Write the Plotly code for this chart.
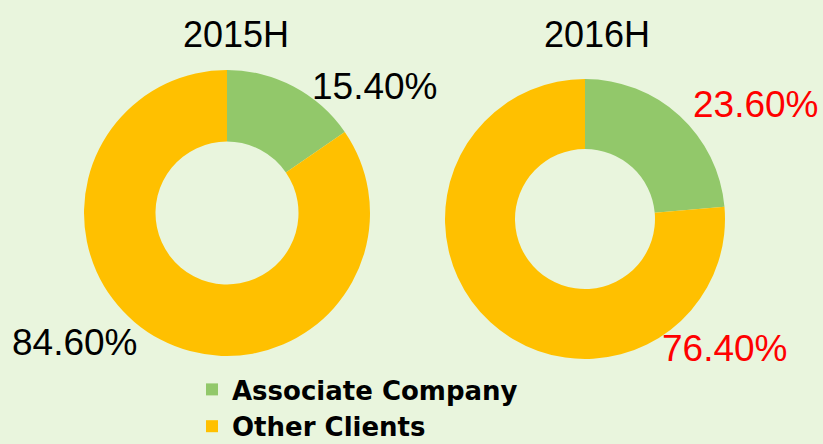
import plotly.graph_objects as go

labels = ["Associate Company", "Other Clients"]
titles = ["2015H", "2016H"]
values_2015 = [15.40, 84.60]
values_2016 = [23.60, 76.40]
colors = ["#92C86A", "#FFC000"]

W, H = 823, 444
BG = "#E9F5DD"

def px_x(x):
    return x / W

def px_y(y):
    return 1 - y / H

fig = go.Figure()
# left donut: center (227,213) r 143; right: center (585,219) r 140
fig.add_trace(go.Pie(labels=labels, values=values_2015, hole=0.5, sort=False,
                     direction="clockwise", rotation=0, textinfo="none",
                     marker=dict(colors=colors, line=dict(width=0)),
                     domain=dict(x=[px_x(84), px_x(370)], y=[px_y(356), px_y(70)]),
                     hoverinfo="label+percent"))
fig.add_trace(go.Pie(labels=labels, values=values_2016, hole=0.5, sort=False,
                     direction="clockwise", rotation=0, textinfo="none",
                     marker=dict(colors=colors, line=dict(width=0)),
                     domain=dict(x=[px_x(445), px_x(725)], y=[px_y(359), px_y(79)]),
                     hoverinfo="label+percent"))

ann = []
ann.append(dict(x=px_x(236), y=px_y(35), text=titles[0]))
ann.append(dict(x=px_x(597), y=px_y(35), text=titles[1]))
for a in ann:
    a.update(xref="paper", yref="paper", showarrow=False,
             xanchor="center", yanchor="middle",
             font=dict(family="Liberation Sans", size=36, color="black"))

pct = [
    (values_2015[0], 375, 86, "black"),
    (values_2015[1], 75, 342, "black"),
    (values_2016[0], 756, 104, "#FF0000"),
    (values_2016[1], 725, 348, "#FF0000"),
]
for v, x, y, c in pct:
    ann.append(dict(x=px_x(x), y=px_y(y), xref="paper", yref="paper", showarrow=False,
                    xanchor="center", yanchor="middle",
                    text=f"{v:.2f}%",
                    font=dict(family="Liberation Sans", size=37, color=c)))

fig.update_layout(
    width=W, height=H,
    margin=dict(l=0, r=0, t=0, b=0, autoexpand=False),
    paper_bgcolor=BG, plot_bgcolor=BG,
    annotations=ann,
    showlegend=True,
    legend=dict(x=px_x(192), y=px_y(366), xanchor="left", yanchor="top",
                bgcolor="rgba(0,0,0,0)",
                font=dict(family="DejaVu Sans", size=26, color="black", weight="bold"),
                tracegroupgap=0),
)

fig.write_html("out.html", config={"displayModeBar": False},
               post_script="document.body.style.margin='0';document.body.style.padding='0';")
